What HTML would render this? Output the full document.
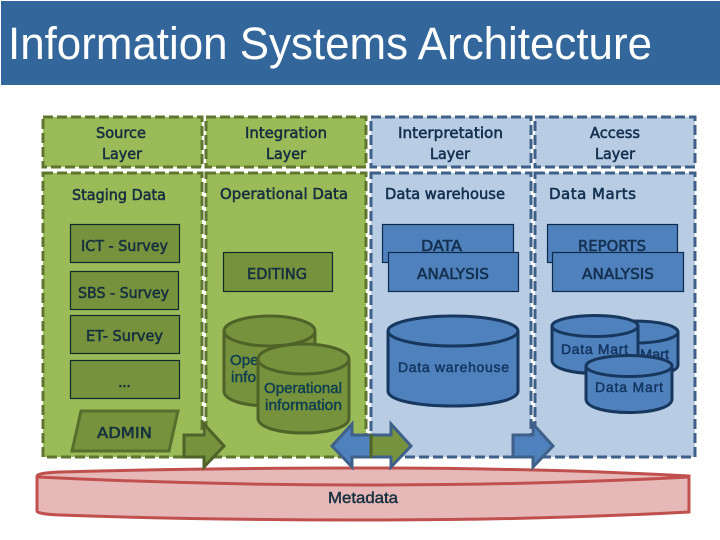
<!DOCTYPE html>
<html>
<head>
<meta charset="utf-8">
<style>
html,body{margin:0;padding:0;background:#fff;width:720px;height:540px;overflow:hidden}
svg{display:block}
.t{font-family:"DejaVu Sans",sans-serif;font-size:15px;fill:#17303f;stroke:#17303f;stroke-width:.55}
.b{font-family:"DejaVu Sans",sans-serif;font-size:15px;fill:#14304f;stroke:#14304f;stroke-width:.55}
.g{font-family:"Liberation Sans",sans-serif;font-size:14.5px;fill:#0f3f50;stroke:#0f3f50;stroke-width:.45}
.d{font-family:"Liberation Sans",sans-serif;font-size:14px;fill:#12345f;stroke:#12345f;stroke-width:.45}
</style>
</head>
<body>
<svg width="720" height="540" viewBox="0 0 720 540" xmlns="http://www.w3.org/2000/svg">
<rect width="720" height="540" fill="#fff"/>
<rect x="1" y="1" width="719" height="84" fill="#33679b"/>
<text x="8" y="59" font-family="Liberation Sans, sans-serif" font-size="45" fill="#fff" textLength="644" lengthAdjust="spacingAndGlyphs">Information Systems Architecture</text>

<g fill="#9bbb59" stroke="#5f7530" stroke-width="3" stroke-dasharray="10 4">
<rect x="43" y="117" width="159" height="50"/>
<rect x="206" y="117" width="160" height="50"/>
<rect x="43" y="173" width="159" height="284"/>
<rect x="206" y="173" width="160" height="284"/>
</g>
<g fill="#b8cce4" stroke="#3f6189" stroke-width="3" stroke-dasharray="10 4">
<rect x="371" y="117" width="160" height="50"/>
<rect x="535" y="117" width="160" height="50"/>
<rect x="371" y="173" width="160" height="284"/>
<rect x="535" y="173" width="160" height="284"/>
</g>

<!-- Metadata -->
<path d="M37 476 Q37 473 60 472 Q200 468 363 468 Q540 468 689 476 L689 512 Q540 520 363 520 Q200 520 60 515 Q37 514 37 511 Z" fill="#e6b9b8" stroke="#c0504d" stroke-width="3"/>
<path d="M37 477 Q200 485 363 485 Q540 485 689 477" fill="none" stroke="#c0504d" stroke-width="3"/>
<text x="328" y="503" class="g" style="fill:#17303f;stroke:#17303f;font-size:16px" textLength="70" lengthAdjust="spacingAndGlyphs">Metadata</text>

<!-- Source boxes -->
<g fill="#76923c" stroke="#0e2a2a" stroke-width="1.2">
<rect x="70.5" y="224.5" width="109" height="38"/>
<rect x="70.5" y="271.5" width="108" height="38"/>
<rect x="70.5" y="315.5" width="109" height="38"/>
<rect x="70.5" y="360.5" width="109" height="38"/>
<rect x="223.5" y="252.5" width="109" height="39"/>
</g>
<polygon points="81,411 178,411 169,451 72,451" fill="#76923c" stroke="#576f2c" stroke-width="3"/>

<!-- Blue boxes -->
<g fill="#4f81bd" stroke="#0e2a4a" stroke-width="1.2">
<rect x="382.5" y="224.5" width="131" height="38"/>
<rect x="547.5" y="224.5" width="130" height="38"/>
</g>
<text x="421" y="251" class="b" textLength="41" lengthAdjust="spacingAndGlyphs">DATA</text>
<text x="578" y="251" class="b" textLength="68" lengthAdjust="spacingAndGlyphs">REPORTS</text>
<g fill="#4f81bd" stroke="#0e2a4a" stroke-width="1.2">
<rect x="388.5" y="252.5" width="130" height="39"/>
<rect x="552.5" y="252.5" width="131" height="39"/>
</g>

<!-- Operational cylinders -->
<g fill="#76923c" stroke="#4f6228" stroke-width="3">
<path d="M224 331 V391 C224 411 315 411 315 391 V331"/>
<ellipse cx="269.5" cy="331" rx="45.5" ry="15"/>
</g>
<text x="230" y="365" class="g" textLength="78" lengthAdjust="spacingAndGlyphs">Operational</text>
<text x="231" y="382" class="g" textLength="77" lengthAdjust="spacingAndGlyphs">information</text>
<g fill="#76923c" stroke="#4f6228" stroke-width="3">
<path d="M258 359 V418 C258 438 349 438 349 418 V359"/>
<ellipse cx="303.5" cy="359" rx="45.5" ry="15"/>
</g>
<text x="264" y="393" class="g" textLength="78" lengthAdjust="spacingAndGlyphs">Operational</text>
<text x="265" y="410" class="g" textLength="77" lengthAdjust="spacingAndGlyphs">information</text>

<!-- Data warehouse -->
<g fill="#4f81bd" stroke="#17375e" stroke-width="3">
<path d="M388 331 V391 C388 411 518 411 518 391 V331"/>
<ellipse cx="453" cy="331" rx="65" ry="15"/>
</g>
<text x="398" y="372" class="d" textLength="111" lengthAdjust="spacing">Data warehouse</text>

<!-- Data marts -->
<g fill="#4f81bd" stroke="#17375e" stroke-width="3">
<path d="M592 332 V365 C592 380 678 380 678 365 V332"/>
<ellipse cx="635" cy="332" rx="43" ry="11"/>
</g>
<text x="640" y="359" class="d" textLength="29" lengthAdjust="spacingAndGlyphs">Mart</text>
<g fill="#4f81bd" stroke="#17375e" stroke-width="3">
<path d="M552 326 V360 C552 378 638 378 638 360 V326"/>
<ellipse cx="595" cy="326" rx="43" ry="10.5"/>
</g>
<text x="561" y="354" class="d" textLength="67" lengthAdjust="spacing">Data Mart</text>
<g fill="#4f81bd" stroke="#17375e" stroke-width="3">
<path d="M586 366 V399 C586 417 672 417 672 399 V366"/>
<ellipse cx="629" cy="366" rx="43" ry="10.5"/>
</g>
<text x="595" y="392" class="d" textLength="68" lengthAdjust="spacing">Data Mart</text>

<!-- Arrows -->
<polygon points="184,435 204,435 204,424 224,446 204,467 204,457 184,457" fill="#76923c" stroke="#4f6228" stroke-width="3"/>
<polygon points="372,435 352,435 352,424 332,446 352,467 352,457 372,457" fill="#4f81bd" stroke="#3f6189" stroke-width="3"/>
<polygon points="371,435 391,435 391,424 411,446 391,467 391,457 371,457" fill="#76923c" stroke="#3f6189" stroke-width="3"/>
<line x1="371" y1="434" x2="371" y2="458" stroke="#4f6228" stroke-width="3"/>
<polygon points="513,435 533,435 533,424 553,446 533,467 533,457 513,457" fill="#4f81bd" stroke="#3f6189" stroke-width="3"/>

<!-- Labels -->
<text x="96" y="138" class="t" textLength="50" lengthAdjust="spacingAndGlyphs">Source</text>
<text x="102" y="159" class="t" textLength="40" lengthAdjust="spacingAndGlyphs">Layer</text>
<text x="245" y="138" class="t" textLength="82" lengthAdjust="spacingAndGlyphs">Integration</text>
<text x="266" y="159" class="t" textLength="40" lengthAdjust="spacingAndGlyphs">Layer</text>
<text x="398" y="138" class="b" textLength="105" lengthAdjust="spacingAndGlyphs">Interpretation</text>
<text x="430" y="159" class="b" textLength="40" lengthAdjust="spacingAndGlyphs">Layer</text>
<text x="590" y="138" class="b" textLength="50" lengthAdjust="spacingAndGlyphs">Access</text>
<text x="595" y="159" class="b" textLength="40" lengthAdjust="spacingAndGlyphs">Layer</text>
<text x="72" y="200" class="t" textLength="94" lengthAdjust="spacingAndGlyphs">Staging Data</text>
<text x="220" y="199" class="t" textLength="128" lengthAdjust="spacingAndGlyphs">Operational Data</text>
<text x="385" y="199" class="b" textLength="120" lengthAdjust="spacingAndGlyphs">Data warehouse</text>
<text x="549" y="199" class="b" textLength="87" lengthAdjust="spacing">Data Marts</text>
<text x="81" y="251" class="t" textLength="87" lengthAdjust="spacingAndGlyphs">ICT - Survey</text>
<text x="78" y="298" class="t" textLength="91" lengthAdjust="spacingAndGlyphs">SBS - Survey</text>
<text x="86" y="341" class="t" textLength="77" lengthAdjust="spacingAndGlyphs">ET- Survey</text>
<text x="118" y="387" class="t" textLength="13" lengthAdjust="spacing">...</text>
<text x="97" y="438" class="t" textLength="55" lengthAdjust="spacingAndGlyphs">ADMIN</text>
<text x="247" y="279" class="t" textLength="60" lengthAdjust="spacingAndGlyphs">EDITING</text>
<text x="417" y="279" class="b" textLength="72" lengthAdjust="spacingAndGlyphs">ANALYSIS</text>
<text x="582" y="279" class="b" textLength="72" lengthAdjust="spacingAndGlyphs">ANALYSIS</text>
</svg>
</body>
</html>
